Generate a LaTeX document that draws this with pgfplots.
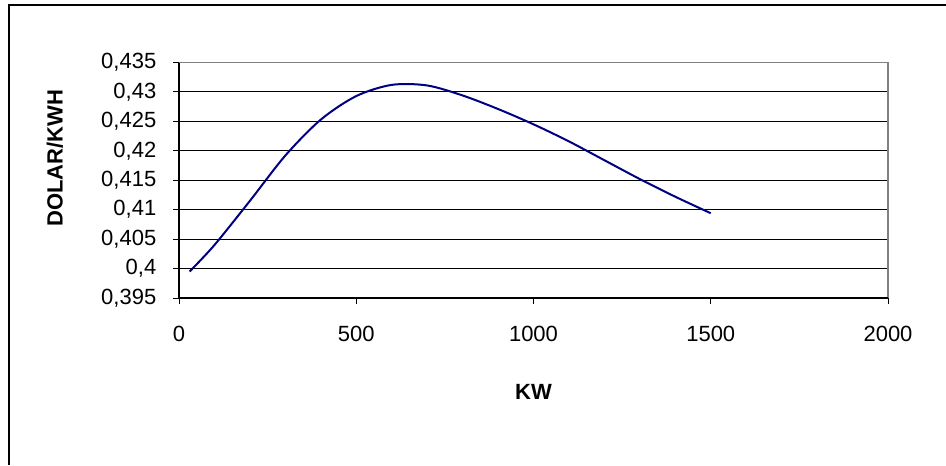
\documentclass[border=0pt]{standalone}
\usepackage{pgfplots}
\pgfplotsset{compat=1.18}
\usepackage{fontspec}
\setmainfont{Liberation Sans}

\definecolor{navyline}{RGB}{0,0,128}
\definecolor{borderGray}{RGB}{128,128,128}

\begin{document}
\fontsize{11}{13}\selectfont
\begin{tikzpicture}
\useasboundingbox (0,0) rectangle (473pt,-232.5pt);
% outer chart frame (cut at right and bottom)
\draw[line width=1pt] (4.4pt,-232.5pt) -- (4.4pt,-2.75pt) -- (473pt,-2.75pt);

\begin{axis}[
  scale only axis,
  width=354.5pt, height=117.75pt,
  at={(89.5pt,-149pt)}, anchor=south west,
  xmin=0, xmax=2000,
  ymin=0.395, ymax=0.435,
  axis line style={draw=none},
  xtick={0,500,1000,1500,2000},
  xticklabels={0,500,1000,1500,2000},
  ytick={0.395,0.4,0.405,0.41,0.415,0.42,0.425,0.43,0.435},
  yticklabels={{0,395},{0,4},{0,405},{0,41},{0,415},{0,42},{0,425},{0,43},{0,435}},
  tick align=outside,
  xtick pos=bottom, ytick pos=left,
  major tick length=3pt,
  tick style={black, line width=0.5pt},
  ymajorgrids,
  grid style={black, line width=0.5pt},
  xticklabel style={yshift=-7pt},
  yticklabel style={xshift=-4.5pt},
  xlabel={\textbf{KW}},
  ylabel={\textbf{DOLAR/KWH}},
  xlabel style={at={(axis description cs:0.5,-0.399)}, anchor=center},
  ylabel style={at={(axis description cs:-0.175,0.594)}, anchor=center, rotate=0},
  clip=false,
]
\addplot[navyline, line width=1pt, smooth, tension=0.5] coordinates {
  (30,0.3995) (100,0.4040) (200,0.4115) (300,0.4192) (400,0.4253)
  (500,0.4293) (600,0.4312) (700,0.4311) (800,0.4294) (900,0.4271)
  (1000,0.4245) (1100,0.4216) (1200,0.4184) (1300,0.4152)
  (1400,0.4122) (1500,0.4094)
};
\draw[borderGray, line width=0.6pt] (rel axis cs:0,1) -- (rel axis cs:1,1) -- (rel axis cs:1,0);
\draw[black, line width=0.6pt] (rel axis cs:0,1) -- (rel axis cs:0,0) -- (rel axis cs:1,0);
\end{axis}
\end{tikzpicture}
\end{document}
